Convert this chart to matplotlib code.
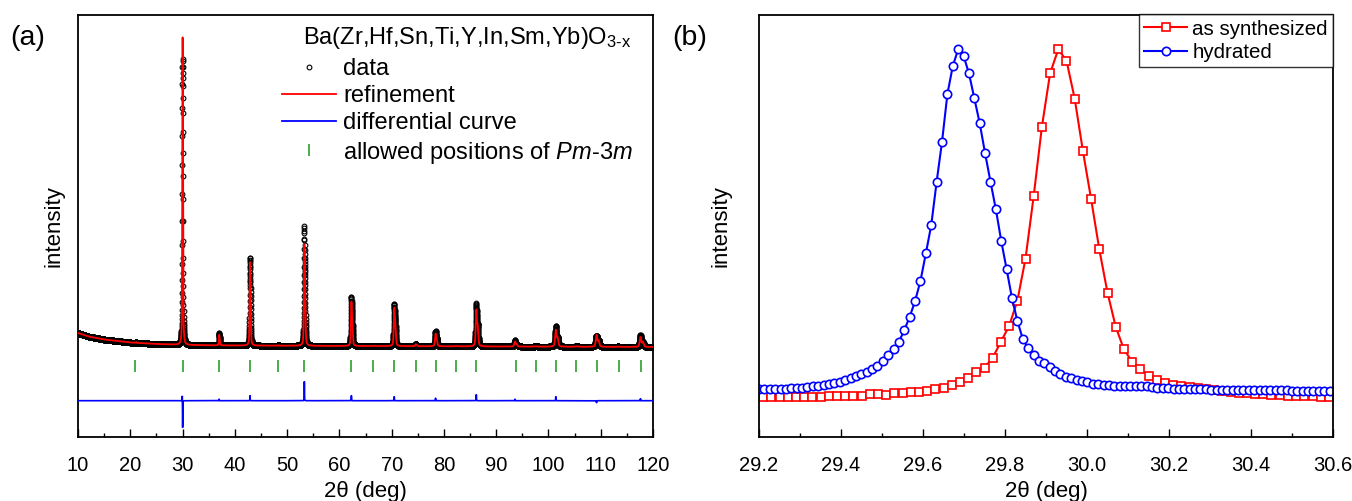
import numpy as np
import matplotlib
matplotlib.use('Agg')
import matplotlib.pyplot as plt
from matplotlib.lines import Line2D
from matplotlib.ticker import MultipleLocator, FormatStrFormatter

plt.rcParams['font.family'] = ['Liberation Sans', 'DejaVu Sans']
plt.rcParams['mathtext.fontset'] = 'custom'
plt.rcParams['mathtext.rm'] = 'Liberation Sans'
plt.rcParams['mathtext.it'] = 'Liberation Sans:italic'

# ---------------- Panel (a): Rietveld refinement ----------------
bg_2theta = [10, 12, 15, 20, 25, 30, 40, 60, 90, 120]
bg_level = [104.0, 100.5, 97.5, 94.5, 93.0, 92.0, 91.5, 91.0, 90.5, 90.0]

peak_pos = [21.1, 30.0, 37.0, 42.9, 48.3, 53.3, 62.3, 66.6, 70.5, 74.6,
            78.4, 82.3, 86.2, 93.6, 97.5, 101.4, 105.3, 109.2, 113.3, 117.6]
peak_height = [0.7, 254, 9.0, 72, 0.4, 90, 40, 0.4, 35.3, 1.9,
               11.8, 0.4, 34.7, 4.7, 0.4, 16.3, 0.4, 11.6, 0.4, 9.7]

diff_pos = [29.95, 30.02, 37.0, 42.9, 53.3, 62.3, 70.5, 78.4, 86.2, 93.6,
            101.4, 109.2, 117.6]
diff_amp = [6, -27, 1.5, 5, 19, 5, 4, 2.5, 6, 1.5, 4, -2, 2]
diff_offset = 36.3

allowed_pos = [21.0, 30.0, 36.9, 42.9, 48.3, 53.3, 62.3, 66.5, 70.5, 74.6,
               78.5, 82.3, 86.2, 93.7, 97.6, 101.5, 105.3, 109.3, 113.4, 117.7]
allowed_level = 71.0

# ---------------- Panel (b): (110) reflection ----------------
syn_start, syn_step = 29.21, 0.02
syn_int = [40.0, 40.0, 40.2, 40.0, 40.2, 40.4, 40.5, 40.4, 40.8, 41.0, 41.0,
           41.3, 41.3, 42.7, 42.7, 42.2, 43.7, 43.7, 45.3, 45.3, 46.3,
           47.7, 49.3, 52.0, 54.7, 58.7, 64.7, 69.3, 79.3, 95.3, 111.0,
           136.0, 178.3, 241.0, 310.3, 363.7, 387.7, 376.3, 338.3, 286.0, 238.0,
           187.7, 144.3, 110.3, 87.7, 75.3, 68.0, 61.5, 57.0, 54.0, 52.0,
           51.0, 50.2, 49.0, 48.0, 47.0, 46.0, 45.2, 44.4, 44.0, 43.2,
           42.8, 42.2, 41.8, 41.5, 41.0, 40.8, 40.7, 40.2, 40.2]

hyd_start, hyd_step = 29.20, 0.01313
hyd_int = [48.5, 48.5, 48.3, 48.4,
           48.5, 48.5, 48.7, 49.0, 49.4,
           49.9, 50.6, 51.4, 52.2, 53.2, 54.2, 55.4,
           57.0, 58.7, 61.0, 62.7, 65.3, 67.7, 71.0,
           76.3, 82.0, 87.7, 95.3, 107.0, 120.3, 136.0, 156.3,
           183.7, 212.0, 255.3, 295.3, 343.0, 371.0, 387.7,
           381.0, 363.7, 338.7, 313.7, 283.7, 255.3, 227.7, 196.0,
           167.7, 138.7, 116.0, 98.0, 88.7, 82.0, 76.3, 74.3, 70.3,
           66.1, 62.7, 60.3, 59.2, 57.5, 55.8, 55.1, 53.3, 52.6, 52.3, 51.6, 50.9,
           50.9, 50.6, 50.6, 50.9, 51.3, 51.3, 49.9, 49.2, 49.2, 48.8, 48.5, 48.1, 48.1,
           48.0, 47.8, 47.7, 47.6, 47.5, 47.4, 47.3, 47.2, 47.2, 47.1, 47.0, 47.0,
           46.9, 46.8, 46.8, 46.7, 46.7, 46.6, 46.6, 46.5, 46.5, 46.5, 46.4, 46.4,
           46.4, 46.3, 46.3]

# ---------------- profile construction (pseudo-Voigt, Cu Ka1/Ka2) ----------------
LAM1, LAM2 = 1.54056, 1.54439


def pv(x, x0, fwhm, eta=0.5):
    r = (x - x0) / fwhm
    return eta / (1 + 4 * r ** 2) + (1 - eta) * np.exp(-4 * np.log(2) * r ** 2)


def fwhm_of(tt):
    return 0.10 + 0.0025 * (tt - 20)


def pattern(x):
    y = np.interp(x, bg_2theta, bg_level)
    for p, h in zip(peak_pos, peak_height):
        w = fwhm_of(p)
        th = np.radians(p / 2)
        p2 = 2 * np.degrees(np.arcsin(np.clip(np.sin(th) * LAM2 / LAM1, -1, 1)))
        y = y + h * pv(x, p, w) + 0.5 * h * pv(x, p2, w)
    return y


def diff_curve(x):
    d = np.zeros_like(x)
    for p, a in zip(diff_pos, diff_amp):
        d = d + a * pv(x, p, 0.05)
    return d


x_fit = np.arange(10, 120.0001, 0.002)
x_obs = np.arange(10, 120.0001, 0.01)
y_fit = pattern(x_fit)
d_obs = diff_curve(x_obs)
y_obs = pattern(x_obs) + d_obs

# ---------------- figure ----------------
fig = plt.figure(figsize=(13.52, 5.01), dpi=100)
W, H = 1352, 501
axL, axR, axT, axB = 78, 653, 14.5, 437
bxL, bxR = 759, 1333
ax1 = fig.add_axes([axL / W, 1 - axB / H, (axR - axL) / W, (axB - axT) / H])
ax2 = fig.add_axes([bxL / W, 1 - axB / H, (bxR - bxL) / W, (axB - axT) / H])

green = '#2ca02c'
ax1.plot(x_obs, y_obs, ls='none', marker='o', ms=3.4, mfc='none', mec='k', mew=0.8, zorder=2)
ax1.plot(x_fit, y_fit, color='red', lw=1.3, zorder=3)
ax1.plot(x_obs, d_obs + diff_offset, color='blue', lw=1.2, zorder=3)
ax1.plot(allowed_pos, [allowed_level] * len(allowed_pos), ls='none', marker='|',
         ms=8, mec=green, mew=1.2, zorder=3)
ax1.set_xlim(10, 120)
ax1.set_ylim(0, axB - axT)

x_syn = syn_start + syn_step * np.arange(len(syn_int))
x_hyd = hyd_start + hyd_step * np.arange(len(hyd_int))
ax2.plot(x_syn, syn_int, color='red', lw=1.5, marker='s', ms=5.4, mfc='white',
         mec='red', mew=1.2, label='as synthesized')
ax2.plot(x_hyd, hyd_int, color='blue', lw=1.5, marker='o', ms=6.0, mfc='white',
         mec='blue', mew=1.2, label='hydrated')
ax2.set_xlim(29.2, 30.6)
ax2.set_ylim(0, axB - axT)

for ax in (ax1, ax2):
    ax.set_yticks([])
    for s in ax.spines.values():
        s.set_linewidth(1.3)
    ax.tick_params(axis='x', which='both', direction='in', top=False, labelsize=14.5,
                   width=1.0, pad=14)
    ax.tick_params(axis='x', which='major', length=6)
    ax.tick_params(axis='x', which='minor', length=3)
    ax.set_xlabel('2θ (deg)', fontsize=16, labelpad=4)

ax1.set_ylabel('intensity', fontsize=16, labelpad=10)
ax2.set_ylabel('intensity', fontsize=16, labelpad=20)
ax1.xaxis.set_major_locator(MultipleLocator(10))
ax1.xaxis.set_minor_locator(MultipleLocator(5))
ax2.xaxis.set_major_locator(MultipleLocator(0.2))
ax2.xaxis.set_minor_locator(MultipleLocator(0.1))
ax2.xaxis.set_major_formatter(FormatStrFormatter('%.1f'))

# legend (a)
ax1.text((303 - axL) / (axR - axL), (axB - 38) / (axB - axT),
         r'Ba(Zr,Hf,Sn,Ti,Y,In,Sm,Yb)O$_{\mathregular{3}\text{-}\mathregular{x}}$',
         transform=ax1.transAxes, fontsize=17, va='center', ha='left')
hs = [Line2D([], [], ls='none', marker='o', ms=3.4, mfc='none', mec='k', mew=0.8),
      Line2D([], [], color='red', lw=1.3),
      Line2D([], [], color='blue', lw=1.3),
      Line2D([], [], ls='none', marker='|', ms=8, mec=green, mew=1.2)]
lbs = ['data', 'refinement', 'differential curve',
       r'allowed positions of $\mathit{Pm}$-3$\mathit{m}$']
ax1.legend(hs, lbs, loc='upper left', frameon=False, fontsize=17,
           bbox_to_anchor=((282 - axL) / (axR - axL), (axB - 58) / (axB - axT)),
           borderpad=0, borderaxespad=0, handlelength=2.3, handletextpad=0.3,
           labelspacing=0.22, numpoints=1)

# legend (b)
leg2 = ax2.legend(loc='upper right', fontsize=14.8, frameon=True, fancybox=False,
                  borderaxespad=0, borderpad=0.25, handlelength=2.1,
                  handletextpad=0.25, labelspacing=0.22)
leg2.get_frame().set_edgecolor('black')
leg2.get_frame().set_linewidth(1.0)

fig.text(10 / W, 1 - 38 / H, '(a)', fontsize=20.5, va='center', ha='left')
fig.text(672 / W, 1 - 38 / H, '(b)', fontsize=20.5, va='center', ha='left')

fig.savefig('out.png', dpi=100)
